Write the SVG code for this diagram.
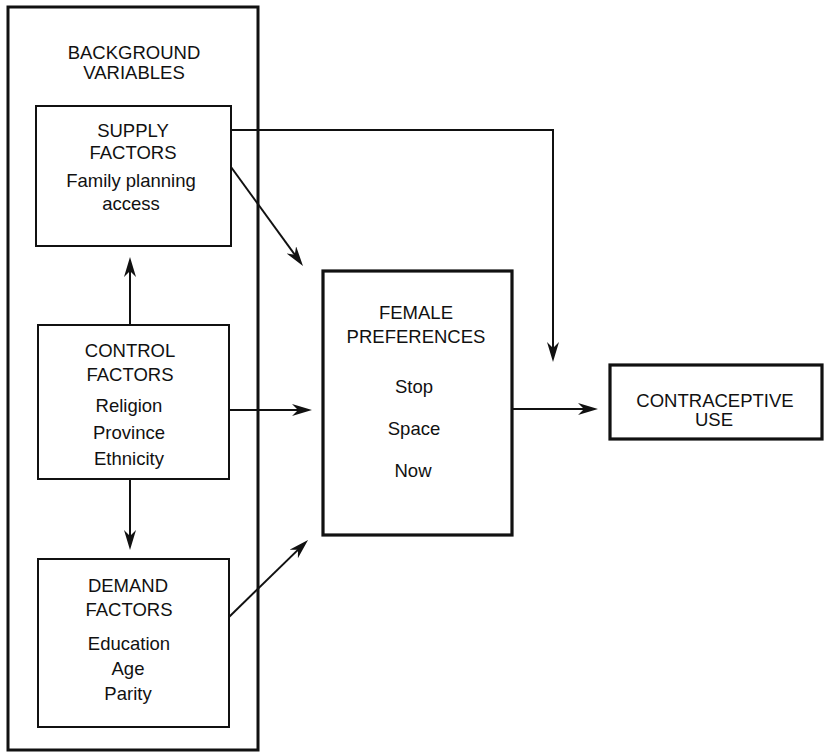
<svg xmlns="http://www.w3.org/2000/svg" width="829" height="754" viewBox="0 0 829 754">
  <defs>
    <style>
      .bg { fill: #ffffff; }
      .outer { fill: none; stroke: #111; stroke-width: 3; }
      .box { fill: #ffffff; stroke: #111; stroke-width: 2; }
      .thick { fill: #ffffff; stroke: #111; stroke-width: 3.2; }
      .conn { fill: none; stroke: #111; stroke-width: 2; }
      text { font-family: "Liberation Sans", Arial, sans-serif; font-size: 18.5px; fill: #111; text-anchor: middle; }
    </style>
    <marker id="arr" viewBox="0 0 20 12" refX="12" refY="6" markerWidth="20" markerHeight="12" markerUnits="userSpaceOnUse" orient="auto">
      <path d="M0,0 L20,6 L0,12 L6,6 Z" fill="#111"/>
    </marker>
  </defs>
  <rect class="bg" x="0" y="0" width="829" height="754"/>

  <g id="background-variables">
    <rect class="outer" x="8" y="7" width="250" height="743"/>
    <text x="134" y="59">BACKGROUND</text>
    <text x="134" y="79">VARIABLES</text>
  </g>

  <g id="supply-factors">
    <rect class="box" x="36" y="106" width="195" height="140"/>
    <text x="133" y="137">SUPPLY</text>
    <text x="133" y="159">FACTORS</text>
    <text x="131" y="187">Family planning</text>
    <text x="131" y="210">access</text>
  </g>

  <g id="control-factors">
    <rect class="box" x="38" y="325" width="191" height="154"/>
    <text x="130" y="357">CONTROL</text>
    <text x="130" y="381">FACTORS</text>
    <text x="129" y="412">Religion</text>
    <text x="129" y="439">Province</text>
    <text x="129" y="465">Ethnicity</text>
  </g>

  <g id="demand-factors">
    <rect class="box" x="38" y="559" width="191" height="168"/>
    <text x="128" y="592">DEMAND</text>
    <text x="129" y="616">FACTORS</text>
    <text x="129" y="650">Education</text>
    <text x="128" y="675">Age</text>
    <text x="128" y="700">Parity</text>
  </g>

  <g id="female-preferences">
    <rect class="thick" x="323" y="271" width="189" height="264"/>
    <text x="416" y="319">FEMALE</text>
    <text x="416" y="343">PREFERENCES</text>
    <text x="414" y="393">Stop</text>
    <text x="414" y="435">Space</text>
    <text x="413" y="477">Now</text>
  </g>

  <g id="contraceptive-use">
    <rect class="thick" x="610" y="365" width="212" height="74"/>
    <text x="715" y="407">CONTRACEPTIVE</text>
    <text x="714" y="426">USE</text>
  </g>

  <g id="connectors">
    <path class="conn" d="M231,130 L553,130 L553,354" marker-end="url(#arr)"/>
    <path class="conn" d="M231,167 L298.3,259.5" marker-end="url(#arr)"/>
    <path class="conn" d="M130,325 L130,265" marker-end="url(#arr)"/>
    <path class="conn" d="M130,479 L130,542" marker-end="url(#arr)"/>
    <path class="conn" d="M229,410 L304,410" marker-end="url(#arr)"/>
    <path class="conn" d="M229,617 L302.3,545.6" marker-end="url(#arr)"/>
    <path class="conn" d="M512,409 L590,409" marker-end="url(#arr)"/>
  </g>
</svg>
